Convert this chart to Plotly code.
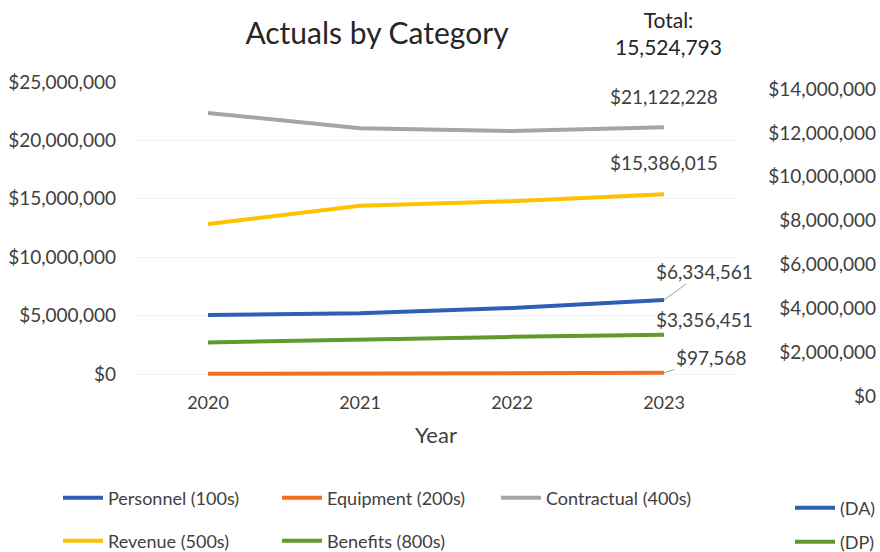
import plotly.graph_objects as go

# Yearly actuals per budget category
years = ["2020", "2021", "2022", "2023"]
personnel = [5_050_000, 5_200_000, 5_650_000, 6_334_561]
equipment = [20_000, 45_000, 70_000, 97_568]
contractual = [22_350_000, 21_050_000, 20_800_000, 21_122_228]
revenue = [12_850_000, 14_400_000, 14_800_000, 15_386_015]
benefits = [2_700_000, 2_980_000, 3_180_000, 3_356_451]
total_label = "15,524,793"

W, H = 880, 552
FONT = "Lato"
TXT = "#404040"

colors = {
    "Personnel (100s)": "#2F5FB5",
    "Equipment (200s)": "#F07020",
    "Contractual (400s)": "#A5A5A5",
    "Revenue (500s)": "#FFC000",
    "Benefits (800s)": "#5E9A2C",
}
series = [
    ("Personnel (100s)", personnel, "legend"),
    ("Equipment (200s)", equipment, "legend"),
    ("Contractual (400s)", contractual, "legend"),
    ("Revenue (500s)", revenue, "legend3"),
    ("Benefits (800s)", benefits, "legend3"),
]

# Left value axis: a little headroom below zero keeps the lowest line unclipped
Y_MIN, Y_MAX = -300_000, 25_000_000
ZERO_PX, TOP_PX = 374, 82
px_per_unit = (ZERO_PX - TOP_PX) / Y_MAX
BOTTOM_PX = ZERO_PX - Y_MIN * px_per_unit


def px_x(p):
    return p / W


def px_y(p):
    return 1 - p / H


fig = go.Figure()
for name, vals, leg in series:
    fig.add_trace(go.Scatter(
        x=years, y=vals, name=name, mode="lines",
        line=dict(color=colors[name], width=4),
        legend=leg, hoverinfo="skip",
    ))

# Neighbouring chart's legend entries (its plot lies beyond the right edge)
fig.add_trace(go.Scatter(x=[None], y=[None], name="(DA)", mode="lines",
                         line=dict(color="#2F5FB5", width=4),
                         xaxis="x2", yaxis="y2", legend="legend2"))
fig.add_trace(go.Scatter(x=[None], y=[None], name="(DP)", mode="lines",
                         line=dict(color="#5E9A2C", width=4),
                         xaxis="x2", yaxis="y2", legend="legend4"))

# Data labels on the final year (x given as the category index)
last = len(years) - 1
label_font = dict(family=FONT, size=19, color=TXT)
fig.add_annotation(x=last, y=contractual[last], text=f"${contractual[last]:,}",
                   showarrow=False, yshift=31, font=label_font)
fig.add_annotation(x=last, y=revenue[last], text=f"${revenue[last]:,}",
                   showarrow=False, yshift=32, font=label_font)
fig.add_annotation(x=last, y=personnel[last], text=f"${personnel[last]:,}",
                   showarrow=True, arrowhead=0, arrowwidth=1, arrowcolor="#A0A0A0",
                   ax=40, ay=-29, font=label_font)
fig.add_annotation(x=last, y=benefits[last], text=f"${benefits[last]:,}",
                   showarrow=False, xshift=40, yshift=15, font=label_font)
fig.add_annotation(x=last, y=equipment[last], text=f"${equipment[last]:,}",
                   showarrow=True, arrowhead=0, arrowwidth=1, arrowcolor="#A0A0A0",
                   ax=47, ay=-15, font=label_font)

# Total in the header
fig.add_annotation(xref="paper", yref="paper", x=px_x(668), y=px_y(33),
                   text="Total:<br>" + total_label, showarrow=False,
                   font=dict(family=FONT, size=21, color="#262626"),
                   align="center", xanchor="center", yanchor="middle")

legend_common = dict(orientation="h", xanchor="left", yanchor="middle",
                     font=dict(family=FONT, size=18, color=TXT),
                     bgcolor="rgba(0,0,0,0)", itemwidth=40)

fig.update_layout(
    width=W, height=H, autosize=False,
    margin=dict(l=0, r=0, t=0, b=0, autoexpand=False),
    paper_bgcolor="white", plot_bgcolor="white",
    font=dict(family=FONT, color=TXT),
    title=dict(text="Actuals by Category", x=px_x(377), xanchor="center",
               y=px_y(33), yanchor="middle",
               font=dict(family=FONT, size=30, color="#262626")),
    xaxis=dict(type="category", categoryorder="array", categoryarray=years,
               range=[-0.5, 3.5], domain=[px_x(132), px_x(740)],
               showgrid=False, zeroline=False, showline=False, ticks="",
               ticklabelstandoff=12, automargin=False,
               tickfont=dict(family=FONT, size=18, color=TXT),
               title=dict(text="Year", standoff=16,
                          font=dict(family=FONT, size=22, color=TXT))),
    yaxis=dict(range=[Y_MIN, Y_MAX], tick0=0, dtick=5_000_000, tickformat="$,.0f",
               domain=[px_y(BOTTOM_PX), px_y(TOP_PX)], automargin=False,
               showgrid=True, gridcolor="#F3F3F3", gridwidth=1,
               zeroline=False, showline=False, ticks="", ticklabelstandoff=15,
               tickfont=dict(family=FONT, size=19, color=TXT)),
    xaxis2=dict(domain=[0.999, 1.0], anchor="y2", visible=False, range=[0, 1]),
    yaxis2=dict(anchor="x2", side="left", range=[0, 14_000_000], dtick=2_000_000,
                tickformat="$,.0f", domain=[px_y(396), px_y(89)], automargin=False,
                showgrid=False, zeroline=False, showline=False, ticks="",
                ticklabelstandoff=2,
                tickfont=dict(family=FONT, size=19, color=TXT)),
    legend=dict(x=px_x(58), y=px_y(498), entrywidth=164, entrywidthmode="pixels",
                **legend_common),
    legend3=dict(x=px_x(58), y=px_y(541), entrywidth=164, entrywidthmode="pixels",
                 **legend_common),
    legend2=dict(x=px_x(790), y=px_y(508), **legend_common),
    legend4=dict(x=px_x(790), y=px_y(542), **legend_common),
    showlegend=True,
)

fig.write_html("out.html")
